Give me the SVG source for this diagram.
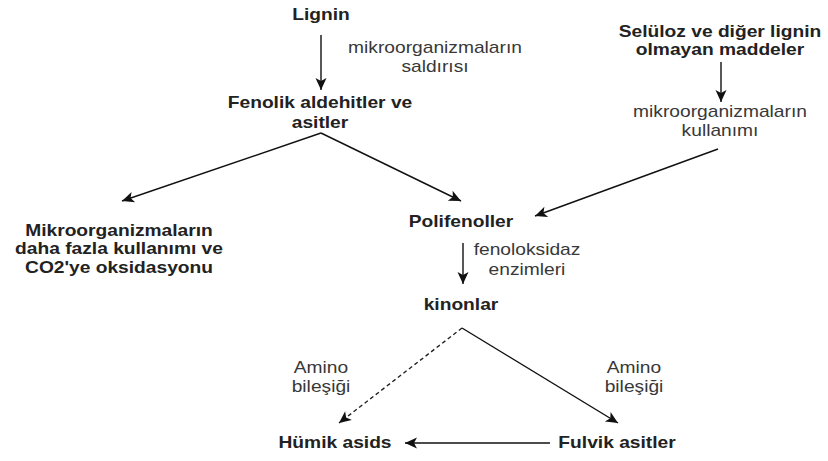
<svg xmlns="http://www.w3.org/2000/svg" width="828" height="461" viewBox="0 0 828 461">
<style>
text{font-family:"Liberation Sans",Arial,sans-serif;font-size:16px;text-anchor:middle}
.n{font-weight:bold;fill:#222}
.l{fill:#383838}
.e{stroke:#111;stroke-width:1.4;fill:none}
.d{stroke-dasharray:4 3;stroke:#222}
</style>
<defs>
<marker id="ah" markerUnits="userSpaceOnUse" markerWidth="14" markerHeight="12" refX="12" refY="5.5" orient="auto" overflow="visible">
<path d="M0,0 L12,5.5 L0,11 L3,5.5 Z" fill="#111" stroke="none"/>
</marker>
</defs>
<rect width="828" height="461" fill="#fff"/>
<g id="connectors">
<line class="e" x1="321" y1="35" x2="321" y2="90" marker-end="url(#ah)"/>
<line class="e" x1="321" y1="133" x2="122" y2="201" marker-end="url(#ah)"/>
<line class="e" x1="321" y1="133" x2="461" y2="201" marker-end="url(#ah)"/>
<line class="e" x1="721" y1="62" x2="721" y2="102" marker-end="url(#ah)"/>
<line class="e" x1="718" y1="149" x2="535" y2="216" marker-end="url(#ah)"/>
<line class="e" x1="463" y1="243" x2="463" y2="284" marker-end="url(#ah)"/>
<line class="e d" x1="462" y1="328" x2="339" y2="423" marker-end="url(#ah)"/>
<line class="e" x1="462" y1="328" x2="618" y2="423" marker-end="url(#ah)"/>
<line class="e" x1="550" y1="443" x2="405" y2="443" marker-end="url(#ah)"/>
</g>
<g id="lignin" transform="matrix(1.2 0 0 1 321 0)"><text class="n" x="0" y="20">Lignin</text></g>
<g id="fenolik" transform="matrix(1.2 0 0 1 320 0)"><text class="n" x="0" y="108">Fenolik aldehitler ve</text><text class="n" x="0" y="128">asitler</text></g>
<g id="mikro-co2" transform="matrix(1.2 0 0 1 119 0)"><text class="n" x="0" y="236">Mikroorganizmaların</text><text class="n" x="0" y="254.5">daha fazla kullanımı ve</text><text class="n" x="0" y="273">CO2'ye oksidasyonu</text></g>
<g id="polifenoller" transform="matrix(1.2 0 0 1 461 0)"><text class="n" x="0" y="227">Polifenoller</text></g>
<g id="kinonlar" transform="matrix(1.2 0 0 1 461 0)"><text class="n" x="0" y="310">kinonlar</text></g>
<g id="seluloz" transform="matrix(1.2 0 0 1 720 0)"><text class="n" x="0" y="37">Selüloz ve diğer lignin</text><text class="n" x="0" y="55">olmayan maddeler</text></g>
<g id="humik" transform="matrix(1.2 0 0 1 335 0)"><text class="n" x="0" y="448">Hümik asids</text></g>
<g id="fulvik" transform="matrix(1.2 0 0 1 617 0)"><text class="n" x="0" y="448">Fulvik asitler</text></g>
<g id="lbl-saldirisi" transform="matrix(1.2 0 0 1 435 0)"><text class="l" x="0" y="53">mikroorganizmaların</text><text class="l" x="0" y="72">saldırısı</text></g>
<g id="lbl-kullanimi" transform="matrix(1.2 0 0 1 720 0)"><text class="l" x="0" y="117">mikroorganizmaların</text><text class="l" x="0" y="136">kullanımı</text></g>
<g id="lbl-fenoloksidaz" transform="matrix(1.2 0 0 1 527 0)"><text class="l" x="0" y="255">fenoloksidaz</text><text class="l" x="0" y="275">enzimleri</text></g>
<g id="lbl-amino-left" transform="matrix(1.2 0 0 1 321 0)"><text class="l" x="0" y="373">Amino</text><text class="l" x="0" y="392">bileşiği</text></g>
<g id="lbl-amino-right" transform="matrix(1.2 0 0 1 634 0)"><text class="l" x="0" y="373">Amino</text><text class="l" x="0" y="392">bileşiği</text></g>
</svg>
